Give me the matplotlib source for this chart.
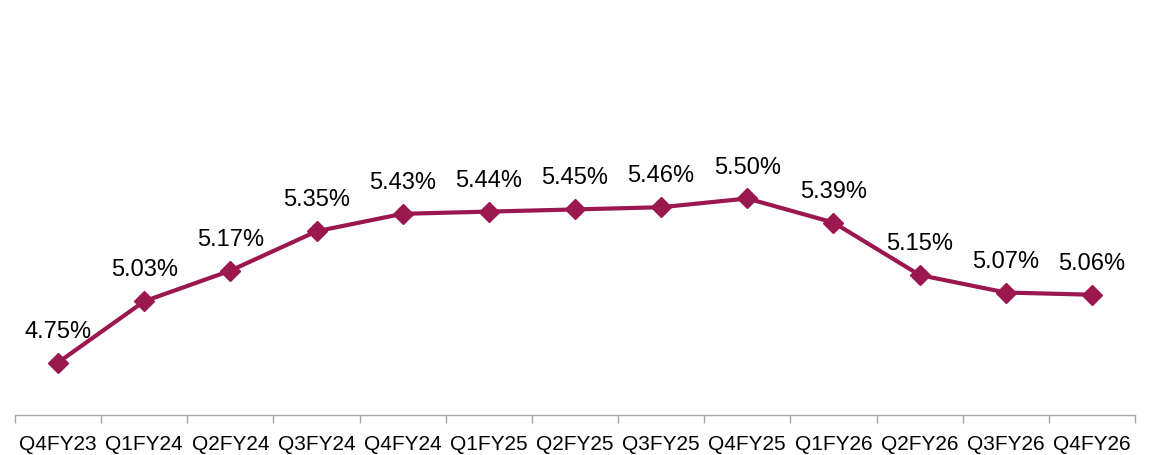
import numpy as np
import matplotlib.pyplot as plt

# Quarterly values
quarters = ["Q4FY23", "Q1FY24", "Q2FY24", "Q3FY24", "Q4FY24", "Q1FY25", "Q2FY25",
            "Q3FY25", "Q4FY25", "Q1FY26", "Q2FY26", "Q3FY26", "Q4FY26"]
values = [4.75, 5.03, 5.17, 5.35, 5.43, 5.44, 5.45, 5.46, 5.50, 5.39, 5.15, 5.07, 5.06]

line_color = "#9B1750"

plt.rcParams['font.family'] = ['Liberation Sans', 'DejaVu Sans']

fig = plt.figure(figsize=(11.57, 4.56), dpi=100)
ax = fig.add_axes([15 / 1157, 1 - 416 / 456, 1120 / 1157, 416 / 456])

x = np.arange(len(quarters))
ax.plot(x, values, color=line_color, linewidth=3, marker="D", markersize=10.5,
        markeredgecolor=line_color, zorder=3)

for xi, v in zip(x, values):
    ax.annotate(f"{v:.2f}%", (xi, v), xytext=(0, 23), textcoords="offset points",
                ha="center", va="center", fontsize=17, color="black")

ax.set_xlim(-0.5, len(quarters) - 0.5)
ax.set_ylim(4.51, 4.51 + 416 / 218.7)

# category labels at centres, tick marks at boundaries
ax.set_xticks(x)
ax.set_xticklabels(quarters, fontsize=15)
ax.set_xticks(np.arange(-0.5, len(quarters)), minor=True)
ax.tick_params(axis="x", which="major", length=0, pad=14)
ax.tick_params(axis="x", which="minor", length=6, color="#A6A6A6", width=1)
ax.set_yticks([])

for side in ["top", "right", "left"]:
    ax.spines[side].set_visible(False)
ax.spines["bottom"].set_color("#A6A6A6")
ax.spines["bottom"].set_linewidth(1)

fig.savefig("out.png", dpi=100)
plt.close(fig)
